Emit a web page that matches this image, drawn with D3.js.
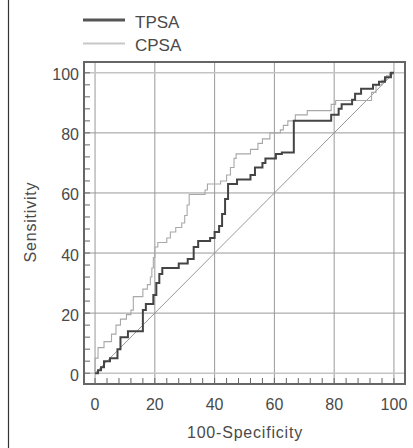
<!DOCTYPE html>
<html>
<head>
  <meta charset="utf-8">
  <script src="https://cdn.jsdelivr.net/npm/d3@7"></script>
  <style>
    body { margin: 0; background: #fff; }
    text { font-family: "Liberation Sans", Arial, sans-serif; fill: #4a4a4a; }
  </style>
</head>
<body>
  <div id="chart"></div>
  <script>
    // ROC curves: [100-Specificity, Sensitivity]
    const tpsa = [[0,0],[1,0],[1,1],[2,1],[2,2],[3,2],[3,4],[5,4],[5,5],[7.5,5],[7.5,8],[8.5,8],[8.5,12],[11,12],[11,14],[16,14],[16,21],[17,21],[17,23],[19.5,23],[19.5,26],[20.5,26],[20.5,30],[21.5,30],[21.5,33],[22.5,33],[22.5,35],[28,35],[28,36.5],[31,36.5],[31,38],[33,38],[33,42],[34.5,42],[34.5,44],[38.5,44],[38.5,45],[40,45],[40,47],[41.5,47],[41.5,49],[42.5,49],[42.5,53],[43.5,53],[43.5,58],[44.5,58],[44.5,63],[47.5,63],[47.5,64.5],[52,64.5],[52,66],[53.5,66],[53.5,68.5],[56,68.5],[56,70],[57,70],[57,71.5],[60.5,71.5],[60.5,73],[62.5,73],[62.5,73.5],[66.5,73.5],[66.5,84],[79,84],[79,86],[81.5,86],[81.5,88],[82.5,88],[82.5,89.5],[86,89.5],[86,91],[87,91],[87,93],[89,93],[89,94.7],[93,94.7],[93,96],[95,96],[95,97],[97,97],[97,98.5],[99,98.5],[99,100],[100,100]]

    const cpsa = [[0,0],[0,5],[1,5],[1,8.5],[3,8.5],[3,10.5],[5.5,10.5],[5.5,13],[7,13],[7,16],[8.5,16],[8.5,18],[10.5,18],[10.5,19.5],[12,19.5],[12,21],[12.8,21],[12.8,25.5],[16,25.5],[16,28],[17.5,28],[17.5,29.5],[18.5,29.5],[18.5,32],[19,32],[19,35],[19.5,35],[19.5,38.5],[20,38.5],[20,42],[21,42],[21,43.5],[24,43.5],[24,45],[25.2,45],[25.2,47],[27,47],[27,48.5],[29,48.5],[29,50],[30,50],[30,52.5],[30.8,52.5],[30.8,56],[31.5,56],[31.5,59.5],[36.8,59.5],[36.8,61],[37.6,61],[37.6,63],[42,63],[42,64],[44,64],[44,66],[45.3,66],[45.3,68.5],[46.5,68.5],[46.5,71.5],[47.2,71.5],[47.2,73],[52,73],[52,74.5],[54.5,74.5],[54.5,76.5],[56,76.5],[56,78],[58.5,78],[58.5,80],[62,80],[62,81],[63,81],[63,82.5],[64.5,82.5],[64.5,84],[67,84],[67,86],[71,86],[71,87.4],[79,87.4],[79,89.5],[80.5,89.5],[80.5,90.8],[92.5,90.8],[92.5,93.5],[94,93.5],[94,96],[96,96],[96,97.5],[97.5,97.5],[97.5,99],[98.5,99],[98.5,100],[100,100]]

    const reference = [[0,0],[100,100]]
    const majorTicks = [0, 20, 40, 60, 80, 100]
    const minorTicks = d3.range(0, 101, 4)
    const legendNames = ["TPSA", "CPSA"]

    const width = 413
    const height = 448
    const plotLeft = 84, plotRight = 405, plotTop = 62, plotBottom = 384

    const svg = d3.select("#chart")
      .append("svg")
      .attr("width", width)
      .attr("height", height)

    const x = d3.scaleLinear().domain([-3.7, 103.7]).range([plotLeft, plotRight])
    const y = d3.scaleLinear().domain([-3.6, 103.6]).range([plotBottom, plotTop])

    // page border on the left
    svg.append("line")
      .attr("x1", 8.5).attr("x2", 8.5)
      .attr("y1", 0).attr("y2", height)
      .style("stroke", "#333")
      .style("stroke-width", 1.2)

    // grid
    const grid = svg.append("g")
    grid.selectAll("line.v")
      .data(majorTicks)
      .enter()
      .append("line")
      .attr("class", "v")
      .attr("x1", d => x(d)).attr("x2", d => x(d))
      .attr("y1", plotTop).attr("y2", plotBottom)
      .style("stroke", "#999")
      .style("stroke-width", 1)
    grid.selectAll("line.h")
      .data(majorTicks)
      .enter()
      .append("line")
      .attr("class", "h")
      .attr("x1", plotLeft).attr("x2", plotRight)
      .attr("y1", d => y(d)).attr("y2", d => y(d))
      .style("stroke", d => (d === 0 || d === 100) ? "#c4c4c4" : "#999")
      .style("stroke-width", d => (d === 0 || d === 100) ? 1.6 : 1)

    // minor ticks inside the frame
    const ticks = svg.append("g").style("stroke", "#666").style("stroke-width", 1)
    ticks.selectAll("line.bx")
      .data(minorTicks)
      .enter()
      .append("line")
      .attr("class", "bx")
      .attr("x1", d => x(d)).attr("x2", d => x(d))
      .attr("y1", plotBottom).attr("y2", plotBottom - 6)
    ticks.selectAll("line.ly")
      .data(minorTicks)
      .enter()
      .append("line")
      .attr("class", "ly")
      .attr("x1", plotLeft).attr("x2", plotLeft + 6)
      .attr("y1", d => y(d)).attr("y2", d => y(d))

    const line = d3.line().x(d => x(d[0])).y(d => y(d[1]))

    svg.append("path")
      .datum(reference)
      .attr("d", line)
      .style("fill", "none")
      .style("stroke", "#999")
      .style("stroke-width", 1)

    svg.append("path")
      .datum(cpsa)
      .attr("d", line)
      .style("fill", "none")
      .style("stroke", "#a8a8a8")
      .style("stroke-width", 1.1)

    svg.append("path")
      .datum(tpsa)
      .attr("d", line)
      .style("fill", "none")
      .style("stroke", "#444")
      .style("stroke-width", 2)

    // frame
    svg.append("rect")
      .attr("x", plotLeft).attr("y", plotTop)
      .attr("width", plotRight - plotLeft).attr("height", plotBottom - plotTop)
      .style("fill", "none")
      .style("stroke", "#666")
      .style("stroke-width", 2)

    // tick labels
    svg.append("g").selectAll("text")
      .data(majorTicks)
      .enter()
      .append("text")
      .attr("x", d => x(d))
      .attr("y", 410)
      .attr("text-anchor", "middle")
      .style("font-size", "16px")
      .text(d => d)

    svg.append("g").selectAll("text")
      .data(majorTicks)
      .enter()
      .append("text")
      .attr("x", 79)
      .attr("y", d => y(d) + 7.5)
      .attr("text-anchor", "end")
      .style("font-size", "16px")
      .text(d => d)

    svg.append("text")
      .attr("x", 245)
      .attr("y", 438)
      .attr("text-anchor", "middle")
      .style("font-size", "16px")
      .style("letter-spacing", "0.8px")
      .text("100-Specificity")

    svg.append("text")
      .attr("transform", "translate(36, 222) rotate(-90)")
      .attr("text-anchor", "middle")
      .style("font-size", "16px")
      .style("letter-spacing", "0.8px")
      .text("Sensitivity")

    // legend
    const legend = svg.append("g")
    const legendStyles = [{ stroke: "#555", w: 3 }, { stroke: "#c8c8c8", w: 1.8 }]
    const legendY = [20, 43.5]
    legendNames.forEach((name, i) => {
      legend.append("line")
        .attr("x1", 83).attr("x2", 125)
        .attr("y1", legendY[i]).attr("y2", legendY[i])
        .style("stroke", legendStyles[i].stroke)
        .style("stroke-width", legendStyles[i].w)
      legend.append("text")
        .attr("x", 135)
        .attr("y", legendY[i] + 7.5)
        .style("font-size", "17px")
        .text(name)
    })
  </script>
</body>
</html>
